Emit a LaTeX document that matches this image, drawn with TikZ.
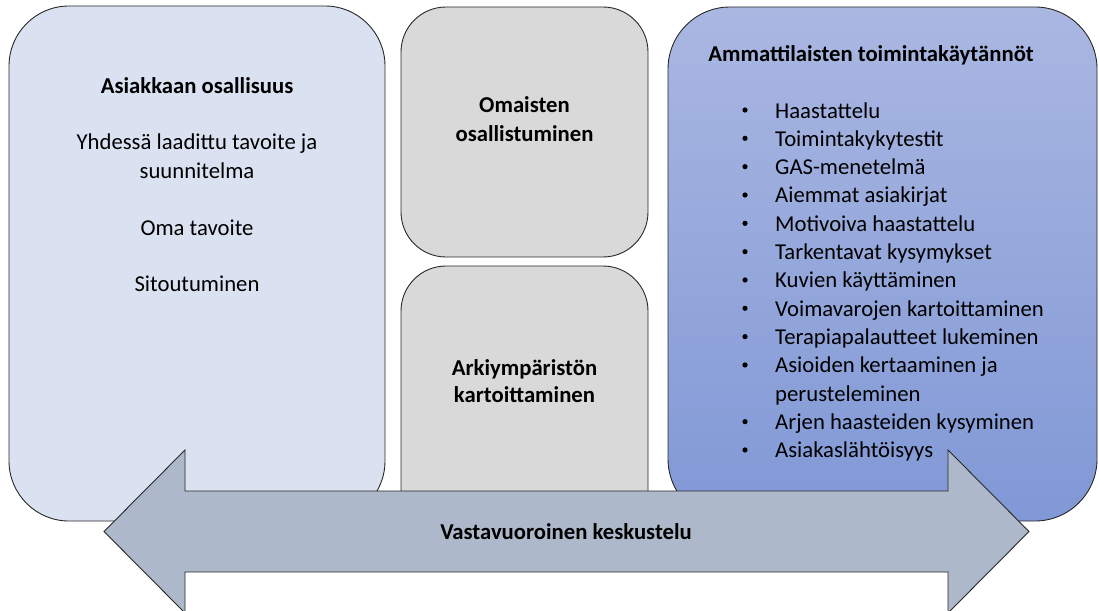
\documentclass[tikz,border=0pt]{standalone}
\usepackage{fontspec}
\setmainfont{Carlito}
\definecolor{edgecol}{RGB}{40,40,40}
\definecolor{leftfill}{RGB}{218,225,241}
\definecolor{grayfill}{RGB}{217,217,217}
\definecolor{blueTop}{RGB}{170,183,225}
\definecolor{blueBot}{RGB}{128,152,214}
\definecolor{arrowfill}{RGB}{173,185,202}
\begin{document}
\begin{tikzpicture}[x=1pt,y=-1pt,
  box/.style={draw=edgecol, line width=0.9pt},
  txt/.style={font=\fontsize{22.7}{28.3}\selectfont, anchor=base, inner sep=0pt},
  btxt/.style={font=\fontsize{22.7}{28.3}\selectfont\bfseries, anchor=base, inner sep=0pt},
  item/.style={txt, anchor=base west},
  dot/.style={circle, fill=black, inner sep=0pt, minimum size=5.2pt},
]
\useasboundingbox (0,0) rectangle (1099,610);

% client participation panel
\draw[box, fill=leftfill, rounded corners=60pt] (9,6) rectangle (385,521);
\node[btxt] (lt) at (197,93) {Asiakkaan osallisuus};
\node[txt] (l1) at (197,149) {Yhdessä laadittu tavoite ja};
\node[txt] (l2) at (197,178) {suunnitelma};
\node[txt] (l3) at (197,235) {Oma tavoite};
\node[txt] (l4) at (197,291) {Sitoutuminen};

% middle panels
\draw[box, fill=grayfill, rounded corners=45pt] (401,7) rectangle (648,257);
\node[btxt] (m1) at (524.5,112) {Omaisten};
\node[btxt] (m2) at (524.5,141) {osallistuminen};
\draw[box, fill=grayfill, rounded corners=45pt] (401,266) rectangle (648,540);
\node[btxt] (m3) at (524.5,375) {Arkiympäristön};
\node[btxt] (m4) at (524.5,402) {kartoittaminen};

% professionals' practices panel
\draw[box, top color=blueTop, bottom color=blueBot, rounded corners=62pt] (668,7) rectangle (1097,521);
\node[btxt] (rt) at (871,61) {Ammattilaisten toimintakäytännöt};
\foreach \t [count=\i from 0] in {Haastattelu,Toimintakykytestit,GAS-menetelmä,Aiemmat asiakirjat,Motivoiva haastattelu,Tarkentavat kysymykset,Kuvien käyttäminen,Voimavarojen kartoittaminen,Terapiapalautteet lukeminen,Asioiden kertaaminen ja,Arjen haasteiden kysyminen,Asiakaslähtöisyys}{
  \pgfmathsetmacro{\k}{\i<10 ? \i : \i+1}
  \node[dot] (b\i) at (745,110+28.33*\k) {};
  \node[item] (r\i) at (775,118+28.33*\k) {\t};
}
\node[item] (r9b) at (775,118+28.33*10) {perusteleminen};

% two-way dialogue arrow
\draw[box, fill=arrowfill] (104,531.5) -- (185,450) -- (185,491) -- (948,491) -- (948,450)
  -- (1029,531.5) -- (948,613) -- (948,572) -- (185,572) -- (185,613) -- cycle;
\node[btxt] (ar) at (566,539) {Vastavuoroinen keskustelu};
\end{tikzpicture}
\end{document}
